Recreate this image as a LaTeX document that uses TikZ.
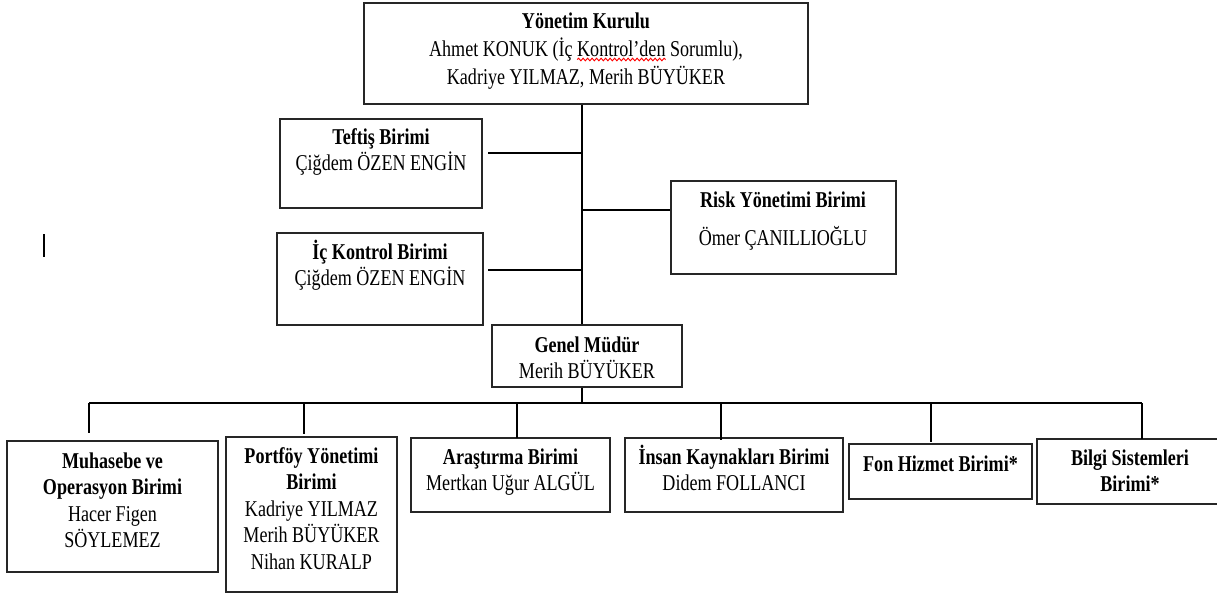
\documentclass[tikz,border=0pt]{standalone}
\usepackage{fontspec}
\setmainfont[FakeStretch=0.8]{Liberation Serif}
\usetikzlibrary{decorations.pathmorphing}
\newlength\lenLine
\newlength\lenPre
\newlength\lenWord
\newcommand\fs{\rule{0pt}{21pt}}
\begin{document}
\settowidth\lenLine{\fontsize{22.6}{28}\selectfont Ahmet KONUK (İç Kontrol’den Sorumlu),}%
\settowidth\lenPre{\fontsize{22.6}{28}\selectfont Ahmet KONUK (İç }%
\settowidth\lenWord{\fontsize{22.6}{28}\selectfont Kontrol’den}%
\pgfmathsetmacro\sqa{586-0.5*\lenLine+\lenPre}%
\pgfmathsetmacro\sqb{586-0.5*\lenLine+\lenPre+\lenWord}%
\begin{tikzpicture}[x=1pt,y=-1pt,
  box/.style={draw=black!85, line width=1.3pt, rectangle, inner sep=0pt},
  txt/.style={anchor=north, inner sep=0pt, align=center, font=\fontsize{22.6}{26.5}\selectfont},
  conn/.style={draw=black, line width=1.3pt}]
\useasboundingbox (0,0) rectangle (1217,595);
\fill[white] (0,0) rectangle (1217,595);
\clip (0,0) rectangle (1217,595);

% boxes
\node[box, minimum width=444pt, minimum height=101pt] (top) at (586,53.5) {};
\node[txt, font=\fontsize{22.6}{28}\selectfont] (topt) at (586,7) {\fs\textbf{Yönetim Kurulu}\\Ahmet KONUK (İç Kontrol’den Sorumlu),\\Kadriye YILMAZ, Merih BÜYÜKER};

\node[box, minimum width=202pt, minimum height=89pt] (tef) at (381,163.5) {};
\node[txt] (teft) at (381,123) {\fs\textbf{Teftiş Birimi}\\Çiğdem ÖZEN ENGİN};

\node[box, minimum width=206pt, minimum height=92pt] (ick) at (380,279) {};
\node[txt] (ickt) at (380,238) {\fs\textbf{İç Kontrol Birimi}\\Çiğdem ÖZEN ENGİN};

\node[box, minimum width=225pt, minimum height=93pt] (risk) at (783.5,227.5) {};
\node[txt] (riskt) at (783,186) {\fs\textbf{Risk Yönetimi Birimi}\\[11.5pt]Ömer ÇANILLIOĞLU};

\node[box, minimum width=190pt, minimum height=62pt] (gm) at (587,356) {};
\node[txt] (gmt) at (587,331) {\fs\textbf{Genel Müdür}\\Merih BÜYÜKER};

\node[box, minimum width=211pt, minimum height=131pt] (muh) at (112.5,506.5) {};
\node[txt] (muht) at (112.5,447) {\fs\textbf{Muhasebe ve}\\\textbf{Operasyon Birimi}\\Hacer Figen\\SÖYLEMEZ};

\node[box, minimum width=171pt, minimum height=155pt] (port) at (311.5,514.5) {};
\node[txt] (portt) at (311.5,442) {\fs\textbf{Portföy Yönetimi}\\\textbf{Birimi}\\Kadriye YILMAZ\\Merih BÜYÜKER\\Nihan KURALP};

\node[box, minimum width=199pt, minimum height=74pt] (ara) at (510.5,475) {};
\node[txt] (arat) at (510.5,443) {\fs\textbf{Araştırma Birimi}\\Mertkan Uğur ALGÜL};

\node[box, minimum width=218pt, minimum height=74pt] (ins) at (734,475) {};
\node[txt] (inst) at (734,443) {\fs\textbf{İnsan Kaynakları Birimi}\\Didem FOLLANCI};

\node[box, minimum width=183pt, minimum height=55pt] (fon) at (940.5,471.5) {};
\node[txt] (font) at (940.5,450) {\fs\textbf{Fon Hizmet Birimi*}};

\node[box, minimum width=186pt, minimum height=65pt] (bil) at (1130,471.5) {};
\node[txt] (bilt) at (1130,444) {\fs\textbf{Bilgi Sistemleri}\\\textbf{Birimi*}};

% spell-check squiggle under Kontrol'den
\coordinate (sqA) at (\sqa,59.5);
\coordinate (sqB) at (\sqb,59.5);
\draw[red, line width=1pt, decorate, decoration={snake, amplitude=1.2pt, segment length=4.5pt}] (sqA) -- (sqB);

% stray cursor mark
\coordinate (barA) at (44,234);
\coordinate (barB) at (44,257);
\draw[line width=1.2pt] (barA) -- (barB);

% connectors
\coordinate (trunk) at (582,0);
\draw[conn] (top.south -| trunk) -- (gm.north -| trunk);
\coordinate (tefc) at (488,153);
\draw[conn] (tefc) -- (tefc -| trunk);
\coordinate (riskc) at (582,210);
\draw[conn] (riskc) -- (riskc -| risk.west);
\coordinate (ickc) at (488,270);
\draw[conn] (ickc) -- (ickc -| trunk);

\coordinate (busL) at (89,403);
\coordinate (busR) at (1142,403);
\draw[conn] (gm.south -| trunk) -- (busL -| trunk);
\draw[conn] (busL) -- (busR);

\coordinate (muhd) at (89,433);
\coordinate (portd) at (304,434);
\coordinate (arad) at (517,438);
\coordinate (insd) at (721,440);
\coordinate (fond) at (931,442);
\coordinate (bild) at (1142,439);
\draw[conn] (busL) -- (muhd);
\draw[conn] (portd |- busL) -- (portd);
\draw[conn] (arad |- busL) -- (arad);
\draw[conn] (insd |- busL) -- (insd);
\draw[conn] (fond |- busL) -- (fond);
\draw[conn] (busR) -- (bild);
\end{tikzpicture}
\end{document}
